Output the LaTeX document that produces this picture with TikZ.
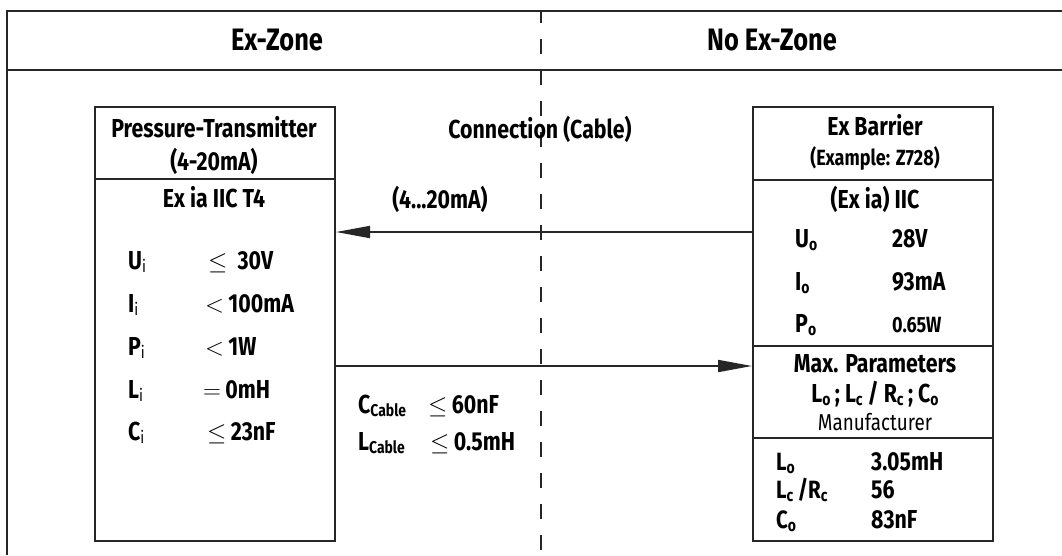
\documentclass[tikz,border=0pt]{standalone}
\usepackage{fontspec}
\setmainfont{Fira Sans}[FakeStretch=0.82]
\usetikzlibrary{arrows.meta}
\newcommand\subl[1]{\raisebox{-3.5pt}{\fontsize{17}{17}\mdseries\selectfont #1}}
\newcommand\subb[1]{\raisebox{-3.5pt}{\fontsize{17}{17}\bfseries\selectfont #1}}
\begin{document}
\begin{tikzpicture}[x=1pt,y=-1pt,
  frameline/.style={line width=2pt,draw=black!85},
  boxline/.style={line width=2pt,draw=black!85},
  zone/.style={font=\bfseries\fontsize{31}{33}\selectfont,inner sep=0},
  txt/.style={font=\bfseries\fontsize{26}{28}\selectfont,inner sep=0},
  mid/.style={font=\bfseries\fontsize{25}{27}\selectfont,inner sep=0},
  small/.style={font=\bfseries\fontsize{22}{24}\selectfont,inner sep=0},
  thin/.style={font=\fontsize{23}{25}\selectfont,inner sep=0},
  sep/.style={line width=2pt,draw=black!85},
  arr/.style={line width=1.8pt,draw=black!85,-{Triangle[length=34pt,width=12pt]}},
  cut/.style={line width=1.6pt,draw=black!85,dash pattern=on 15pt off 16pt,dash phase=3pt}]
\useasboundingbox (0,0) rectangle (1062,555);
% frame
\draw[frameline] (1062,11) -- (7,11) -- (7,555);
\draw[frameline] (7,70) -- (1062,70);
\draw[cut] (541,11) -- (541,555);
\node[zone,anchor=base] (z1) at (277,50) {Ex-Zone};
\node[zone,anchor=base] (z2) at (772,50) {No Ex-Zone};
% boxes
\node[boxline,draw,minimum width=240pt,minimum height=434pt,anchor=north west,inner sep=0] (pt) at (94,106) {};
\node[boxline,draw,minimum width=240pt,minimum height=434pt,anchor=north west,inner sep=0] (eb) at (752,106) {};
\draw[sep] (pt.west |- 0,179) -- (pt.east |- 0,179);
\draw[sep] (eb.west |- 0,180) -- (eb.east |- 0,180);
\draw[sep] (eb.west |- 0,346) -- (eb.east |- 0,346);
\draw[sep] (eb.west |- 0,438) -- (eb.east |- 0,438);
% arrows
\coordinate (a1) at (0,232);
\coordinate (a2) at (0,366);
\draw[arr] (eb.west |- a1) -- (pt.east |- a1);
\draw[arr] (pt.east |- a2) -- (eb.west |- a2);
% left box text
\node[txt,anchor=base] (p1) at (214,137) {Pressure-Transmitter};
\node[txt,anchor=base] (p2) at (214,170) {(4-20mA)};
\node[txt,anchor=base] (p3) at (214,207) {Ex ia IIC T4};
\node[txt,anchor=base west] (l1) at (128,269) {U\subl{i}};
\node[txt,anchor=base west] (l2) at (128,312) {I\subl{i}};
\node[txt,anchor=base west] (l3) at (128,355) {P\subl{i}};
\node[txt,anchor=base west] (l4) at (128,398) {L\subl{i}};
\node[txt,anchor=base west] (l5) at (128,440) {C\subl{i}};
\node[txt,anchor=base west] (v1) at (208,269) {$\le$\ \ 30V};
\node[txt,anchor=base west] (v2) at (205,312) {$<$\,100mA};
\node[txt,anchor=base west] (v3) at (205,355) {$<$\,1W};
\node[txt,anchor=base west] (v4) at (203,398) {$=$\,0mH};
\node[txt,anchor=base west] (v5) at (207,440) {$\le$\,23nF};
% middle text
\node[txt,anchor=base] (c1) at (540,138) {Connection (Cable)};
\node[txt,anchor=base] (c2) at (440,208) {(4...20mA)};
\node[txt,anchor=base west] (c3) at (358,413) {C\subb{Cable}};
\node[txt,anchor=base west] (c4) at (358,450) {L\subb{Cable}};
\node[txt,anchor=base west] (c5) at (428,413) {$\le$\,60nF};
\node[txt,anchor=base west] (c6) at (430,450) {$\le$\,0.5mH};
% right box text
\node[txt,anchor=base] (e1) at (875,135) {Ex Barrier};
\node[small,anchor=base] (e2) at (875,165) {(Example: Z728)};
\node[txt,anchor=base] (e3) at (875,208) {(Ex ia) IIC};
\node[txt,anchor=base west] (o1) at (795,247) {U\subb{o}};
\node[txt,anchor=base west] (o2) at (795,290) {I\subb{o}};
\node[txt,anchor=base west] (o3) at (795,332) {P\subb{o}};
\node[txt,anchor=base west] (w1) at (892,247) {28V};
\node[txt,anchor=base west] (w2) at (892,290) {93mA};
\node[small,anchor=base west] (w3) at (892,332) {0.65W};
\node[txt,anchor=base] (m1) at (875,372) {Max. Parameters};
\node[txt,anchor=base] (m2) at (875,402) {L\subb{o}\,; L\subb{c} / R\subb{c}\,; C\subb{o}};
\node[thin,anchor=base] (m3) at (875,430) {Manufacturer};
\node[mid,anchor=base west] (k1) at (776,470) {L\subb{o}};
\node[mid,anchor=base west] (k2) at (776,498) {L\subb{c}\,/R\subb{c}};
\node[mid,anchor=base west] (k3) at (776,528) {C\subb{o}};
\node[txt,anchor=base west] (n1) at (871,470) {3.05mH};
\node[txt,anchor=base west] (n2) at (871,498) {56};
\node[txt,anchor=base west] (n3) at (871,528) {83nF};
\end{tikzpicture}
\end{document}
